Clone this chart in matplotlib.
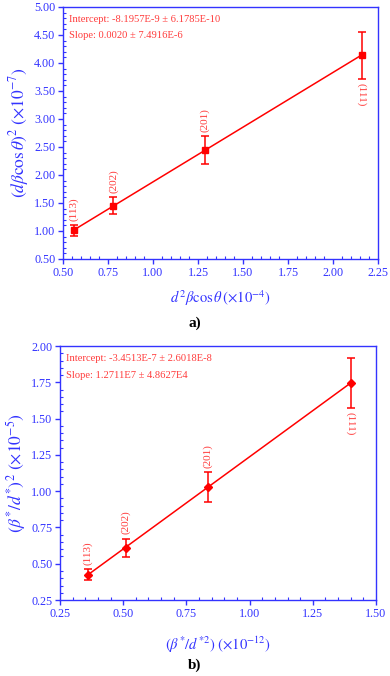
import numpy as np
import matplotlib
matplotlib.use("Agg")
import matplotlib.pyplot as plt
from matplotlib.ticker import MultipleLocator, FormatStrFormatter

plt.rcParams["font.family"] = ["Liberation Serif", "DejaVu Serif"]
plt.rcParams["mathtext.fontset"] = "stix"

BLUE = "#3333ff"
RED = "#ff0000"
TXT_RED = "#ff3b3b"

# panel a) data
a_x = [0.56, 0.78, 1.29, 2.16]
a_y = [1.01, 1.45, 2.45, 4.14]
a_err = [0.10, 0.15, 0.25, 0.42]
a_hkl = ["(113)", "(202)", "(201)", "(111)"]
a_fit = ["Intercept: -8.1957E-9 ± 6.1785E-10", "Slope: 0.0020 ± 7.4916E-6"]

# panel b) data
b_x = [0.36, 0.51, 0.835, 1.40]
b_y = [0.425, 0.61, 1.03, 1.745]
b_err = [0.04, 0.063, 0.103, 0.173]
b_hkl = ["(113)", "(202)", "(201)", "(111)"]
b_fit = ["Intercept: -3.4513E-7 ± 2.6018E-8", "Slope: 1.2711E7 ± 4.8627E4"]


def draw(ax, x, y, err, hkl, fit, marker, ms, xlim, ylim, xlabel, ylabel, xpad):
    x = np.array(x)
    y = np.array(y)
    err = np.array(err)
    k, b = np.polyfit(x, y, 1)
    ax.plot([x[0], x[-1]], [k * x[0] + b, k * x[-1] + b], color=RED, lw=1.1, zorder=2)
    ax.errorbar(x, y, yerr=err, fmt=marker, color=RED, ms=ms, capsize=3,
                elinewidth=1.1, capthick=1.1, zorder=3)
    for i, lab in enumerate(hkl):
        if i == len(hkl) - 1:
            ax.annotate(lab, (x[i], y[i] - err[i]), xytext=(0, -3), textcoords="offset points",
                        rotation=270, ha="center", va="top", color=TXT_RED, fontsize=8)
        else:
            ax.annotate(lab, (x[i], y[i] + err[i]), xytext=(0, 3), textcoords="offset points",
                        rotation=90, ha="center", va="bottom", color=TXT_RED, fontsize=8)
    ax.text(0.02, 0.95, fit[0], transform=ax.transAxes, color=TXT_RED, fontsize=7.6, va="center")
    ax.text(0.02, 0.885, fit[1], transform=ax.transAxes, color=TXT_RED, fontsize=7.6, va="center")

    ax.set_xlim(*xlim)
    ax.set_ylim(*ylim)
    ax.xaxis.set_major_locator(MultipleLocator(0.25))
    ax.xaxis.set_minor_locator(MultipleLocator(0.05))
    ax.xaxis.set_major_formatter(FormatStrFormatter("%.2f"))
    ax.yaxis.set_major_formatter(FormatStrFormatter("%.2f"))
    for s in ax.spines.values():
        s.set_color(BLUE)
        s.set_linewidth(1.0)
    ax.tick_params(which="major", direction="out", length=3.5, width=1.0, color=BLUE,
                   labelcolor=BLUE, labelsize=8.7, pad=2)
    ax.tick_params(which="minor", direction="in", length=2, width=0.8, color=BLUE)
    ax.set_xlabel(xlabel, color=BLUE, fontsize=10.5, labelpad=xpad)
    ax.set_ylabel(ylabel, color=BLUE, fontsize=12.5, labelpad=2)


fig = plt.figure(figsize=(3.9, 6.76), dpi=100)

ax1 = fig.add_axes([0.1615, 0.6169, 0.8077, 0.3728])
draw(ax1, a_x, a_y, a_err, a_hkl, a_fit, "s", 4.5, (0.5, 2.25), (0.5, 5.0),
     r"$d^2\beta\cos\theta\,(\times10^{-4})$",
     r"$(d\beta\cos\theta)^2\ (\times10^{-7})$", 7)
ax1.yaxis.set_major_locator(MultipleLocator(0.5))
ax1.yaxis.set_minor_locator(MultipleLocator(0.1))

ax2 = fig.add_axes([0.1538, 0.1124, 0.8103, 0.3757])
draw(ax2, b_x, b_y, b_err, b_hkl, b_fit, "D", 4.2, (0.25, 1.5), (0.25, 2.0),
     r"$(\beta^{*}/d^{*2})\ (\times10^{-12})$",
     r"$(\beta^{*}/d^{*})^2\ (\times10^{-5})$", 11)
ax2.yaxis.set_major_locator(MultipleLocator(0.25))
ax2.yaxis.set_minor_locator(MultipleLocator(0.05))

fig.text(0.5, 1 - 323 / 676, "a)", ha="center", va="center", fontsize=11, fontweight="bold")
fig.text(0.5, 1 - 665 / 676, "b)", ha="center", va="center", fontsize=11, fontweight="bold")

fig.savefig("out.png", dpi=100)
